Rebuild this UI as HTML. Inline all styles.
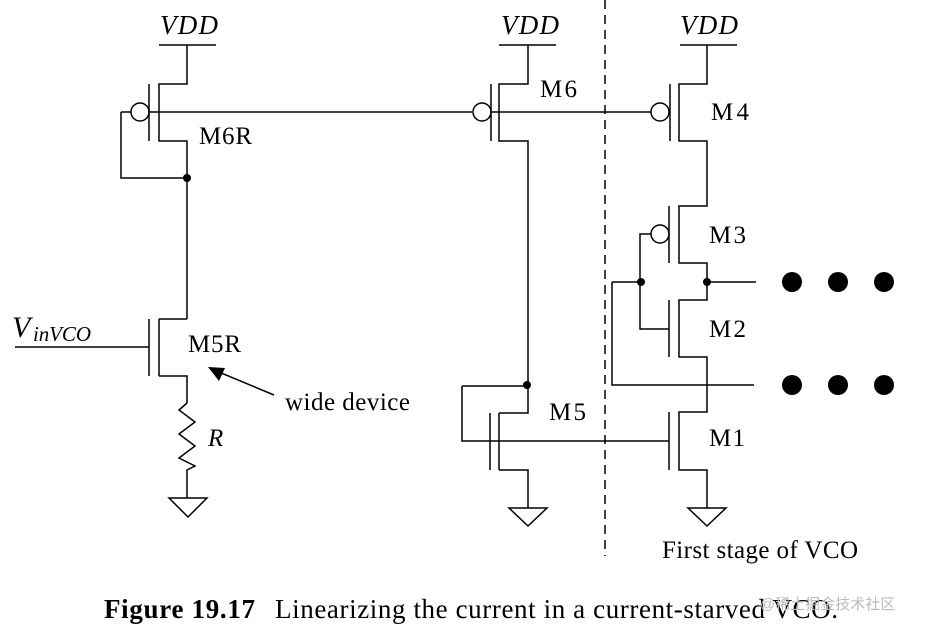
<!DOCTYPE html>
<html><head><meta charset="utf-8"><style>
body{margin:0;background:#fff;width:931px;height:633px;overflow:hidden}
svg{display:block}
text{font-family:"Liberation Serif",serif;fill:#000}
</style></head><body>
<svg width="931" height="633" viewBox="0 0 931 633" xmlns="http://www.w3.org/2000/svg">
<g stroke="#000" stroke-width="1.5" fill="none">
<path d="M159 45H216M187 45V84H159V141H187V319"/>
<path d="M149 84V141"/>
<circle cx="140" cy="112" r="9"/>
<path d="M121 112H131M149 112H472"/>
<path d="M121 112V178H187"/>
<path d="M159 319V376M149 319V376M15 347H149M159 319H187M159 376H187V403"/>
<path d="M187 403L179 410L195 422L179 434L195 446L179 458L195 466L187 470V498"/>
<path d="M169 498H207L188 517Z"/>
<path d="M274 395L214 370"/>
<path d="M499 45H556M528 45V84H499V141H528V413H499M491 84V141M499 470H528V508"/>
<circle cx="482" cy="112" r="9"/>
<path d="M491 112H651"/>
<path d="M462 386H528M462 386V441H669"/>
<path d="M490 413V470M499 413V470"/>
<path d="M509 508H547L528 526Z"/>
<path d="M680 45H737M707 45V84H679V141H707V206H679V263H707V300H679V357H707V412H679V470H707V508"/>
<path d="M670 84V141"/>
<circle cx="660" cy="112" r="9"/>
<path d="M669 206V263M669 300V357M669 412V470"/>
<circle cx="660" cy="234" r="9"/>
<path d="M651 234H640V329H669"/>
<path d="M707 282H756M612 282H641M612 282V385H754"/>
<path d="M688 508H726L707 526Z"/>
<path d="M605 0V556" stroke-dasharray="9,6"/>
</g>
<g fill="#000">
<circle cx="187" cy="178" r="4"/>
<circle cx="527" cy="385" r="4"/>
<circle cx="641" cy="282" r="4"/>
<circle cx="707" cy="282" r="4"/>
<circle cx="792" cy="282" r="10"/><circle cx="838" cy="282" r="10"/><circle cx="884" cy="282" r="10"/>
<circle cx="792" cy="385" r="10"/><circle cx="838" cy="385" r="10"/><circle cx="884" cy="385" r="10"/>
<path d="M208 367L225 368L219 381Z"/>
</g>
<g font-size="27" font-style="italic">
<text x="160" y="34" textLength="58">VDD</text><text x="501" y="34" textLength="58">VDD</text><text x="680" y="34" textLength="58">VDD</text>
</g>
<g font-size="25">
<text x="199" y="144" textLength="53">M6R</text>
<text x="540" y="97" textLength="37">M6</text>
<text x="711" y="120" textLength="38">M4</text>
<text x="709" y="243" textLength="37">M3</text>
<text x="709" y="337" textLength="37">M2</text>
<text x="709" y="446" textLength="36">M1</text>
<text x="549" y="420" textLength="37">M5</text>
<text x="188" y="352" textLength="53">M5R</text>
<text x="285" y="410" textLength="125">wide device</text>
<text x="208" y="446" font-style="italic">R</text>
<text x="662" y="558" textLength="196">First stage of VCO</text>
<text x="12" y="337" font-size="30" font-style="italic">V</text>
<text x="33" y="341" font-size="21" font-style="italic" textLength="58">inVCO</text>
<text x="104" y="618" font-size="27" font-weight="bold" textLength="151">Figure 19.17</text>
<text x="275" y="618" font-size="27" textLength="563">Linearizing the current in a current-starved VCO.</text>
</g>
<text x="760" y="609" font-size="15" style="font-family:'Liberation Sans','Noto Sans CJK SC',sans-serif;fill:#bbb">@稀土掘金技术社区</text>
</svg>
</body></html>
